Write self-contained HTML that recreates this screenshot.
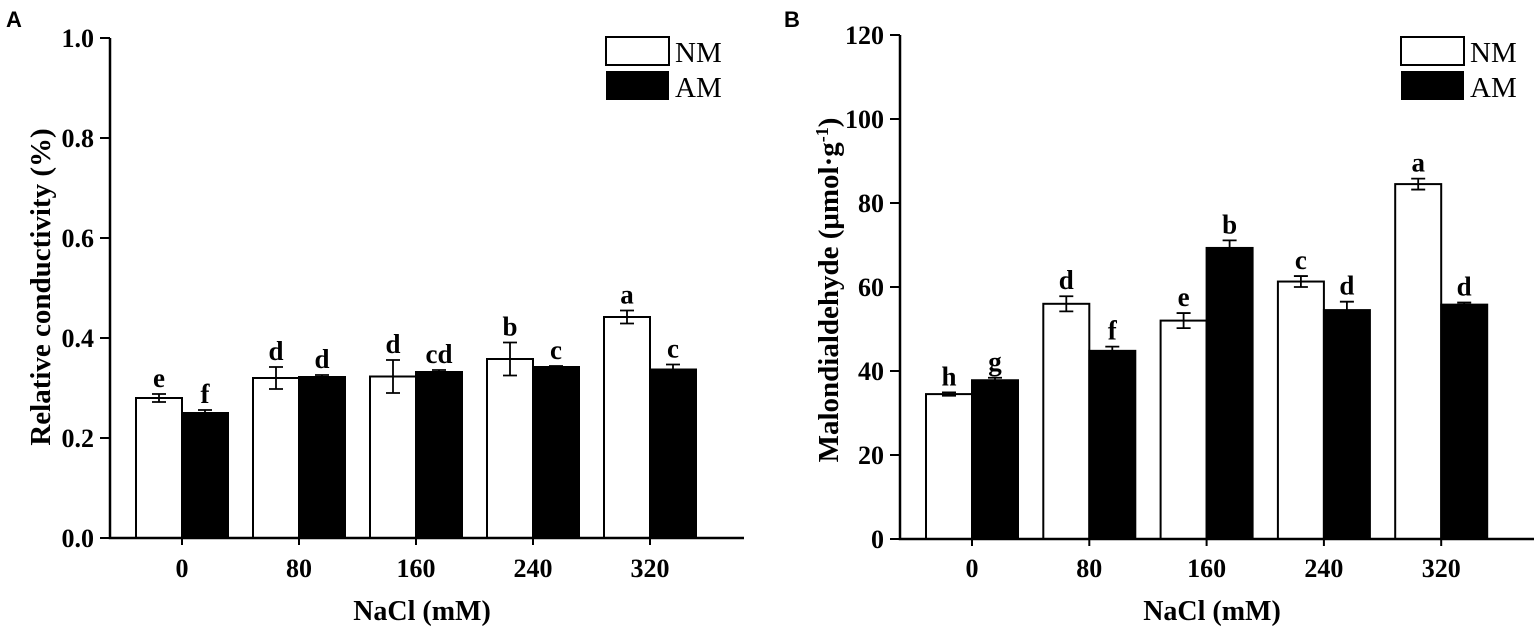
<!DOCTYPE html>
<html><head><meta charset="utf-8">
<style>
html,body{margin:0;padding:0;background:#fff;}
svg{display:block;}
text{font-family:"Liberation Serif",serif;fill:#000;}
</style></head>
<body>
<svg id="chart" width="1535" height="634" viewBox="0 0 1535 634" xmlns="http://www.w3.org/2000/svg"></svg>
<script>
const categories = ["0","80","160","240","320"];
const aNM = [0.28, 0.32, 0.323, 0.358, 0.442];
const aNMErr = [0.008, 0.022, 0.033, 0.033, 0.013];
const aAM = [0.25, 0.322, 0.332, 0.342, 0.337];
const aAMErr = [0.006, 0.004, 0.004, 0.002, 0.01];
const aNMLetters = ["e","d","d","b","a"];
const aAMLetters = ["f","d","cd","c","c"];
const aTicks = ["0.0","0.2","0.4","0.6","0.8","1.0"];
const bNM = [34.5, 56, 52, 61.3, 84.5];
const bNMErr = [0.4, 1.8, 1.8, 1.3, 1.3];
const bAM = [37.8, 44.8, 69.3, 54.5, 55.8];
const bAMErr = [0.6, 1.0, 1.8, 2.0, 0.5];
const bNMLetters = ["h","d","e","c","a"];
const bAMLetters = ["g","f","b","d","d"];
const bTicks = ["0","20","40","60","80","100","120"];

const svg = document.getElementById('chart');
const NS = "http://www.w3.org/2000/svg";
function el(tag, attrs, parent){
  const e = document.createElementNS(NS, tag);
  for (const k in attrs) e.setAttribute(k, attrs[k]);
  (parent||svg).appendChild(e);
  return e;
}

function panel(o){
  const g = el('g', {});
  
  
  const y = v => o.y0 - (v / o.max) * (o.y0 - o.yTop);
  const x = i => o.c0 + i * o.step;
  const pl = el('text', {x:o.letterX, y:27, 'font-weight':'bold', 'font-size':'22'}, g);
  pl.textContent = o.letter;
  pl.setAttribute('style','font-family:"Liberation Sans",sans-serif');
  
  
  for (let i=0;i<categories.length;i++){
    const cx = x(i);
    const r1 = el('rect', {x:cx-o.bw, y:y(o.nm[i]), width:o.bw, height:o.y0-y(o.nm[i]), fill:'#fff', stroke:'#000', 'stroke-width':2}, g);
    
    
    const r2 = el('rect', {x:cx, y:y(o.am[i]), width:o.bw, height:o.y0-y(o.am[i]), fill:'#000', stroke:'#000', 'stroke-width':2}, g);
    
    
    [[cx-o.bw/2, o.nm[i], o.nmE[i], o.nmL[i]], [cx+o.bw/2, o.am[i], o.amE[i], o.amL[i]]].forEach(([ex, v, e, L], k) => {
      const lo = y(v-e), hi = y(v+e);
      const eb = el('path', {d:`M${ex},${lo}V${hi}M${ex-7},${hi}H${ex+7}` + (k===0?`M${ex-7},${lo}H${ex+7}`:''), stroke:'#000', 'stroke-width':1.8, fill:'none'}, g);
      
      
      const t = el('text', {x:ex, y:hi-7, 'text-anchor':'middle', 'font-weight':'bold', 'font-size':'27'}, g);
      t.textContent = L;
      
      
    });
    const tk = el('line', {x1:cx, x2:cx, y1:o.y0, y2:o.y0+7, stroke:'#000', 'stroke-width':2}, g);
    
    
    const tl = el('text', {x:cx, y:577, 'text-anchor':'middle', 'font-weight':'bold', 'font-size':'26'}, g);
    tl.textContent = categories[i];
    
    
  }
  o.ticks.forEach(t => {
    const v = parseFloat(t), ty = y(v);
    const l = el('line', {x1:o.ax-10, x2:o.ax, y1:ty, y2:ty, stroke:'#000', 'stroke-width':2}, g);
    
    
    const tt = el('text', {x:o.ax-16, y:ty+9, 'text-anchor':'end', 'font-weight':'bold', 'font-size':'26'}, g);
    tt.textContent = t;
    
    
  });
  const axes = el('path', {d:`M${o.ax},${o.yTop}V${o.y0}H${o.xEnd}`, stroke:'#000', 'stroke-width':2.5, fill:'none'}, g);
  
  
  const xt = el('text', {x:(o.ax+o.xEnd)/2 - 5, y:620, 'text-anchor':'middle', 'font-weight':'bold', 'font-size':'28'}, g);
  xt.textContent = 'NaCl (mM)';
  
  
  const yt = el('text', {x:0, y:0, 'text-anchor':'middle', 'font-weight':'bold', 'font-size':'29', transform:`translate(${o.ytX},${o.ytY}) rotate(-90)`}, g);
  yt.innerHTML = o.ytitle;
  
  
  const lg = el('g', {}, g);
  
  
  const b1 = el('rect', {x:o.lx, y:37, width:63, height:28, fill:'#fff', stroke:'#000', 'stroke-width':2}, lg);
  
  
  const b2 = el('rect', {x:o.lx, y:71, width:63, height:29, fill:'#000'}, lg);
  
  
  const t1 = el('text', {x:o.lx+69, y:62, 'font-size':'29'}, lg);
  t1.textContent = 'NM';
  
  
  const t2 = el('text', {x:o.lx+69, y:97, 'font-size':'29'}, lg);
  t2.textContent = 'AM';
  
  
}

panel({name:'panel-a', letter:'A', letterX:6, ax:110, y0:538, yTop:38, max:1.0, xEnd:744, c0:182, step:117, bw:46,
  nm:aNM, nmE:aNMErr, am:aAM, amE:aAMErr, nmL:aNMLetters, amL:aAMLetters, ticks:aTicks,
  ytitle:'Relative conductivity (%)', ytX:50, ytY:287, lx:606});
panel({name:'panel-b', letter:'B', letterX:784, ax:900, y0:539, yTop:35, max:120, xEnd:1534, c0:972, step:117.3, bw:46,
  nm:bNM, nmE:bNMErr, am:bAM, amE:bAMErr, nmL:bNMLetters, amL:bAMLetters, ticks:bTicks,
  ytitle:'Malondialdehyde (μmol·g<tspan dy="-10" font-size="18">-1</tspan><tspan dy="10">)</tspan>', ytX:838, ytY:290, lx:1401});
</script>
</body></html>
